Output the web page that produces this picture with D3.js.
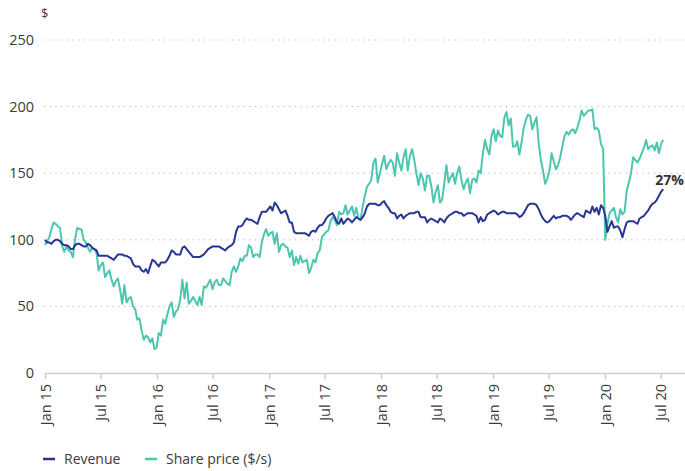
<!DOCTYPE html>
<meta charset="utf-8">
<style>
body { margin: 0; background: #fff; }
svg { font-family: "Open Sans", sans-serif; }
.grid line { stroke: #b9b9b9; stroke-dasharray: 1.3,4.4; }
</style>
<body>
<div id="chart"></div>
<script src="https://d3js.org/d3.v7.min.js"></script>
<script>

// weekly points, starting 1 Jan 2015
var startDate = new Date(2015, 0, 1);

var priceValues = [
  96,99,102,108,113,112,110,109,95,91,
  95,92,91,87,100,109,108,108,100,98,
  94,91,94,93,90,77,81,83,72,75,
  77,70,65,69,71,62,52,66,53,56,
  57,50,48,40,41,32,25,28,27,23,
  26,18,19,30,28,40,37,44,50,53,
  42,46,48,55,70,56,68,52,54,57,
  54,51,57,51,65,64,67,70,63,68,
  70,66,66,71,69,67,66,76,80,76,
  80,86,84,88,88,96,94,87,89,89,
  87,98,104,108,103,105,106,97,105,91,
  96,97,95,94,87,92,81,87,82,88,
  83,84,85,75,79,85,83,90,92,102,
  104,106,107,114,117,115,111,121,119,120,
  126,119,122,125,118,124,116,115,125,133,
  140,142,145,158,161,143,150,157,163,153,
  157,160,158,148,165,158,152,162,168,152,
  163,168,160,150,141,150,146,137,148,148,
  140,128,136,141,128,130,142,156,143,147,
  150,142,150,155,145,138,143,146,135,145,
  146,143,152,150,165,175,168,164,178,183,
  174,182,178,177,192,196,186,191,170,170,
  174,164,173,184,190,194,193,183,188,192,
  172,160,152,142,146,152,165,159,153,156,
  162,170,178,181,179,182,183,180,184,190,
  197,193,195,197,197,198,183,184,182,172,
  168,100,112,120,122,124,117,113,123,119,
  121,137,143,150,162,160,158,161,165,169,
  175,168,170,171,167,173,165,172,175
];

var revenueValues = [
  100,98,98,97,99,100,100,99,97,96,
  96,95,93,93,96,97,97,96,95,95,
  97,96,94,93,92,88,88,88,88,88,
  87,86,85,87,89,89,89,88,88,87,
  86,82,80,80,80,77,76,78,75,80,
  85,84,82,80,83,83,83,85,88,92,
  91,89,89,89,94,95,93,91,89,87,
  87,87,87,88,89,91,93,94,95,95,
  95,95,94,93,92,94,95,96,98,106,
  110,110,111,114,116,115,115,114,113,112,
  117,121,121,121,123,125,122,128,126,123,
  120,121,122,118,113,113,106,105,105,105,
  105,105,104,103,106,107,106,109,111,111,
  113,116,118,119,120,117,113,112,116,112,
  114,116,115,113,115,117,116,115,117,120,
  125,127,127,127,127,126,126,128,129,126,
  124,121,120,120,116,118,119,116,118,119,
  120,120,120,121,121,117,117,117,113,115,
  116,115,114,113,116,115,113,116,118,119,
  120,121,121,120,120,118,119,120,120,120,
  119,118,113,117,114,115,119,120,121,122,
  121,119,120,121,121,120,120,120,120,120,
  119,117,118,120,123,126,127,127,127,126,
  123,119,116,114,113,114,116,118,116,117,
  117,118,118,118,117,115,117,119,120,119,
  118,117,122,121,120,125,121,124,119,126,
  124,118,106,110,114,109,110,110,107,102,
  108,113,114,114,114,113,112,116,117,118,
  120,122,125,127,128,130,133,136,138
];

var tickLabels = ["Jan 15","Jul 15","Jan 16","Jul 16","Jan 17","Jul 17",
                  "Jan 18","Jul 18","Jan 19","Jul 19","Jan 20","Jul 20"];
var yTicks = [0, 50, 100, 150, 200, 250];
var endLabel = "27%";

var width = 685, height = 471;
var plotLeft = 45, plotRight = 685, plotTop = 40, plotBottom = 373;

var parseTick = d3.timeParse("%b %y");
var tickDates = tickLabels.map(function(t) { return parseTick(t); });

function toRows(values) {
  return values.map(function(v, i) {
    return { date: d3.timeDay.offset(startDate, i * 7), value: v };
  });
}
var price = toRows(priceValues);
var revenue = toRows(revenueValues);

var svg = d3.select("#chart").append("svg")
  .attr("width", width).attr("height", height);

var x = d3.scaleTime()
  .domain([new Date(2015, 0, 1), new Date(2020, 8, 18)])
  .range([plotLeft, plotRight]);

var y = d3.scaleLinear()
  .domain([0, 250])
  .range([plotBottom, plotTop]);

// gridlines
svg.append("g").attr("class", "grid")
  .selectAll("line")
  .data(yTicks.filter(function(d) { return d > 0; }))
  .enter().append("line")
  .attr("x1", plotLeft - 1).attr("x2", plotRight)
  .attr("y1", function(d) { return y(d); })
  .attr("y2", function(d) { return y(d); });

// y labels
svg.append("g")
  .selectAll("text")
  .data(yTicks)
  .enter().append("text")
  .attr("x", 34)
  .attr("y", function(d) { return y(d); })
  .attr("dy", "0.35em")
  .attr("text-anchor", "end")
  .attr("font-size", 14.5)
  .attr("fill", "#3a3a3a")
  .text(function(d) { return d; });

svg.append("text")
  .attr("x", 41).attr("y", 18)
  .attr("font-size", 13)
  .attr("fill", "#3a3a3a")
  .text("$");

// x axis
var xAxis = svg.append("g")
  .attr("transform", "translate(0," + plotBottom + ")")
  .call(d3.axisBottom(x)
    .tickValues(tickDates)
    .tickSize(6)
    .tickSizeOuter(0)
    .tickFormat(function(d, i) { return tickLabels[i]; }));

xAxis.select(".domain").attr("stroke", "#cfcfcf").attr("stroke-width", 1.5);
xAxis.selectAll(".tick line").attr("stroke", "#cfcfcf").attr("stroke-width", 1.5);
xAxis.selectAll(".tick text")
  .attr("font-family", "Open Sans, sans-serif")
  .attr("font-size", 14.5)
  .attr("fill", "#3a3a3a")
  .attr("text-anchor", "end")
  .attr("transform", "rotate(-90)")
  .attr("x", -11)
  .attr("y", 0)
  .attr("dy", "0.35em");

var line = d3.line()
  .x(function(d) { return x(d.date); })
  .y(function(d) { return y(d.value); });

svg.append("path")
  .datum(price)
  .attr("fill", "none")
  .attr("stroke", "#4cc6ae")
  .attr("stroke-width", 2)
  .attr("stroke-linejoin", "round")
  .attr("d", line);

svg.append("path")
  .datum(revenue)
  .attr("fill", "none")
  .attr("stroke", "#283593")
  .attr("stroke-width", 2)
  .attr("stroke-linejoin", "round")
  .attr("d", line);

var last = revenue[revenue.length - 1];
svg.append("text")
  .attr("x", x(last.date) - 8)
  .attr("y", y(last.value) - 4)
  .attr("font-size", 14)
  .attr("font-weight", "bold")
  .attr("fill", "#333")
  .text(endLabel);

// legend
var legend = [
  { name: "Revenue", color: "#283593", x: 43 },
  { name: "Share price ($/s)", color: "#4cc6ae", x: 145 }
];
var lg = svg.append("g").selectAll("g")
  .data(legend).enter().append("g")
  .attr("transform", function(d) { return "translate(" + d.x + ",459)"; });
lg.append("line")
  .attr("x1", 0).attr("x2", 12)
  .attr("stroke", function(d) { return d.color; })
  .attr("stroke-width", 2.5);
lg.append("text")
  .attr("x", 21)
  .attr("dy", "0.35em")
  .attr("font-size", 14)
  .attr("fill", "#3a3a3a")
  .text(function(d) { return d.name; });
</script>
